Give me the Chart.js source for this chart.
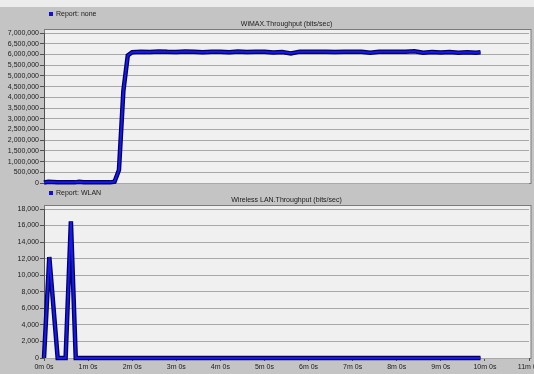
<!DOCTYPE html>
<html>
<head>
<meta charset="utf-8">
<script src="https://cdn.jsdelivr.net/npm/chart.js@4/dist/chart.umd.min.js"></script>
<style>
  html, body { margin: 0; padding: 0; background: #c4c4c4; }
  #wrap { position: relative; width: 534px; height: 374px; overflow: hidden; }
  #strip { position: absolute; left: 0; top: 0; width: 534px; height: 7px; background: #ececec; }
  #c1 { position: absolute; left: 0; top: 0; }
  #c2 { position: absolute; left: 0; top: 190px; }
</style>
</head>
<body>
<div id="wrap">
  <div id="strip"></div>
  <canvas id="c1" width="534" height="190"></canvas>
  <canvas id="c2" width="534" height="184"></canvas>
</div>
<script>
// time in minutes
const wimaxTimes = [0.0, 0.1, 0.2, 0.3, 0.4, 0.5, 0.6, 0.7, 0.8, 0.9, 1.0, 1.1, 1.2, 1.3, 1.4, 1.5, 1.6, 1.7, 1.8, 1.9,
  2.0, 2.2, 2.4, 2.6, 2.8, 3.0, 3.2, 3.4, 3.6, 3.8, 4.0, 4.2, 4.4, 4.6, 4.8, 5.0, 5.2, 5.4, 5.6, 5.8,
  6.0, 6.2, 6.4, 6.6, 6.8, 7.0, 7.2, 7.4, 7.6, 7.8, 8.0, 8.2, 8.4, 8.6, 8.8, 9.0, 9.2, 9.4, 9.6, 9.8, 9.9];
const wimaxValues = [20000, 60000, 50000, 30000, 30000, 40000, 30000, 30000, 60000, 40000, 30000, 30000, 30000, 30000, 30000, 30000, 60000, 600000, 4300000, 5950000,
  6100000, 6130000, 6110000, 6140000, 6120000, 6110000, 6140000, 6130000, 6100000, 6130000, 6120000, 6100000, 6140000, 6110000, 6120000, 6130000, 6090000, 6110000, 6050000, 6130000,
  6130000, 6120000, 6130000, 6110000, 6130000, 6120000, 6130000, 6080000, 6120000, 6130000, 6120000, 6130000, 6150000, 6080000, 6110000, 6090000, 6110000, 6080000, 6100000, 6080000, 6100000];

const wlanTimes = [0.0, 0.12, 0.31, 0.49, 0.61, 0.72, 9.9];
const wlanValues = [0, 12200, 0, 0, 16500, 0, 0];

const wimaxTicks = [0, 500000, 1000000, 1500000, 2000000, 2500000, 3000000, 3500000, 4000000, 4500000, 5000000, 5500000, 6000000, 6500000, 7000000];
const wlanTicks = [0, 2000, 4000, 6000, 8000, 10000, 12000, 14000, 16000, 18000];
const timeTicks = [0, 1, 2, 3, 4, 5, 6, 7, 8, 9, 10, 11];
const timeLabels = ['0m 0s', '1m 0s', '2m 0s', '3m 0s', '4m 0s', '5m 0s', '6m 0s', '7m 0s', '8m 0s', '9m 0s', '10m 0s', '11m 0s'];

const FONT = { family: 'Arial, "Liberation Sans", sans-serif', size: 7 };

function pts(xs, ys) { return xs.map((x, i) => ({ x: x, y: ys[i] })); }

// plot box, legend and title drawn around the chart area
function decor(legendText, titleText, legendY, titleY) {
  return {
    id: 'decor',
    beforeDraw(chart) {
      const { ctx, chartArea: a } = chart;
      ctx.save();
      ctx.fillStyle = '#f0f0f0';
      ctx.fillRect(a.left, a.top - 4, a.right - a.left + 2, a.bottom - a.top + 5);
      ctx.strokeStyle = '#7a7a7a';
      ctx.lineWidth = 1;
      ctx.strokeRect(a.left + 0.5, a.top - 3.5, a.right - a.left + 1.5, a.bottom - a.top + 4);
      ctx.restore();
    },
    afterDraw(chart) {
      const { ctx, chartArea: a } = chart;
      ctx.save();
      ctx.fillStyle = '#1010d0';
      ctx.fillRect(49, legendY - 2, 4, 4);
      ctx.fillStyle = '#202020';
      ctx.font = '7px Arial, "Liberation Sans", sans-serif';
      ctx.textBaseline = 'middle';
      ctx.textAlign = 'left';
      ctx.fillText(legendText, 56, legendY);
      ctx.textAlign = 'center';
      ctx.fillText(titleText, (a.left + a.right) / 2, titleY);
      ctx.restore();
    }
  };
}

function makeChart(id, times, values, yTicks, showX, pad, legendText, titleText, legendY, titleY) {
  const data = pts(times, values);
  return new Chart(document.getElementById(id), {
    type: 'line',
    data: {
      datasets: [
        { data: data, borderColor: '#1818f0', borderWidth: 2, pointRadius: 0, tension: 0, clip: 8 },
        { data: data, borderColor: '#00005a', borderWidth: 4.5, pointRadius: 0, tension: 0, clip: 8 }
      ]
    },
    options: {
      responsive: false,
      animation: false,
      events: [],
      layout: { padding: pad },
      plugins: { legend: { display: false }, title: { display: false }, tooltip: { enabled: false } },
      scales: {
        x: {
          type: 'linear', min: 0, max: 11,
          display: showX,
          afterBuildTicks: s => { s.ticks = timeTicks.map(v => ({ value: v })); },
          afterFit: s => {
            s.height = showX ? 16 : 0;
            s.paddingLeft = 0;
            s.paddingRight = 0;
          },
          grid: { display: true, drawOnChartArea: false, tickLength: 3, color: '#505050' },
          border: { display: false },
          ticks: { font: FONT, color: '#202020', padding: 2, maxRotation: 0, autoSkip: false,
            callback: (v) => timeLabels[timeTicks.indexOf(v)] }
        },
        y: {
          min: 0, max: yTicks[yTicks.length - 1],
          afterBuildTicks: s => { s.ticks = yTicks.map(v => ({ value: v })); },
          afterFit: s => { s.width = 44; },
          grid: { color: '#a8a8a8', tickLength: 4, tickColor: '#505050' },
          border: { color: '#505050' },
          ticks: { font: FONT, color: '#202020', padding: 1, autoSkip: false,
            callback: v => v.toLocaleString('en-US') }
        }
      }
    },
    plugins: [decor(legendText, titleText, legendY, titleY)]
  });
}

makeChart('c1', wimaxTimes, wimaxValues, wimaxTicks, false,
  { top: 33, bottom: 7, left: 0, right: 5 }, 'Report: none', 'WiMAX.Throughput (bits/sec)', 14, 24);
makeChart('c2', wlanTimes, wlanValues, wlanTicks, true,
  { top: 19, bottom: 0, left: 0, right: 5 }, 'Report: WLAN', 'Wireless LAN.Throughput (bits/sec)', 3, 10);
</script>
</body>
</html>
